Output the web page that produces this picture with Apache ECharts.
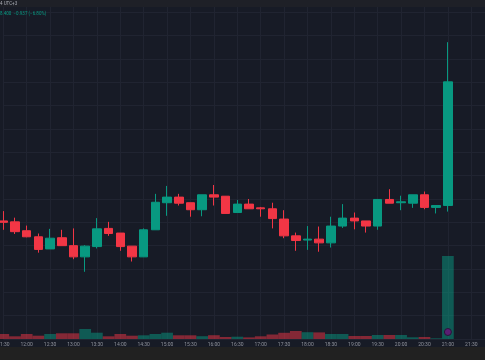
<!DOCTYPE html>
<html>
<head>
<meta charset="utf-8">
<script src="https://cdn.jsdelivr.net/npm/echarts@6/dist/echarts.min.js"></script>
<style>
html,body{margin:0;padding:0;background:#171b26;}
#c{width:485px;height:360px;}
</style>
</head>
<body>
<div id="c"></div>
<script>
const times = ['11:30','11:45','12:00','12:15','12:30','12:45','13:00','13:15','13:30','13:45',
  '14:00','14:15','14:30','14:45','15:00','15:15','15:30','15:45','16:00','16:15',
  '16:30','16:45','17:00','17:15','17:30','17:45','18:00','18:15','18:30','18:45',
  '19:00','19:15','19:30','19:45','20:00','20:15','20:30','20:45','21:00','21:15',
  '21:30','21:45'];
const opens  = [11.53,11.51,11.32,11.19,10.93,11.17,11.00,10.76,10.98,11.37,11.27,10.99,10.76,11.34,11.92,12.04,11.92,11.77,12.09,12.06,11.71,11.89,11.81,11.79,11.57,11.21,11.12,11.14,11.06,11.42,11.59,11.53,11.42,11.99,11.92,11.91,12.09,11.82,11.86];
const closes = [11.50,11.30,11.19,10.92,11.16,11.00,10.76,10.99,11.36,11.26,10.98,10.76,11.34,11.93,12.04,11.91,11.77,12.09,12.04,11.69,11.89,11.79,11.79,11.58,11.21,11.11,11.14,11.06,11.42,11.59,11.53,11.42,11.99,11.91,11.94,12.09,11.82,11.86,14.51];
const lows   = [11.34,11.25,11.18,10.85,10.93,11.00,10.71,10.44,10.94,11.21,10.89,10.66,10.76,11.34,11.64,11.86,11.62,11.63,11.86,11.69,11.71,11.79,11.62,11.37,11.16,10.89,10.91,10.87,10.96,11.38,11.35,11.28,11.34,11.91,11.76,11.81,11.78,11.69,11.73];
const highs  = [11.74,11.60,11.43,11.26,11.36,11.34,11.37,11.01,11.59,11.51,11.27,10.99,11.37,12.11,12.28,12.11,11.92,12.09,12.30,12.06,11.98,12.00,11.83,11.92,11.76,11.28,11.42,11.41,11.62,11.89,11.71,11.53,11.99,12.21,12.07,12.09,12.16,11.86,15.36];
const volumes = [5000,2700,5000,3300,5000,5700,5700,10000,6300,2700,5000,3300,3700,5000,6300,3700,3700,2800,3800,2000,2300,1600,2700,4500,6200,8000,6800,6600,5000,5000,3000,3000,4000,4000,4000,1700,2000,700,83000];
const headerTime = '4 UTC+3';
const headerQuote = '8.400  \u22120.937 (\u22126.80%)';

const UP = '#089981', DOWN = '#f23645';
const UPV = 'rgba(8,153,129,0.5)', DOWNV = 'rgba(242,54,69,0.5)';
const GRIDC = '#202431';
const STEP = 11.7;
const XMAX = 42;
const GRID = { left: 3.3, top: 0, width: STEP * XMAX, height: 339, containLabel: false, outerBoundsMode: 'none' };

const candleData = opens.map((o, i) => [i, o, closes[i], lows[i], highs[i]]);
const volData = volumes.map((v, i) => ({
  value: [i, v],
  itemStyle: { color: closes[i] >= opens[i] ? UPV : DOWNV }
}));
const lastIdx = closes.length - 1;

const chart = echarts.init(document.getElementById('c'), null, { renderer: 'canvas' });
chart.setOption({
  backgroundColor: '#171b26',
  animation: false,
  grid: [ Object.assign({}, GRID), Object.assign({}, GRID) ],
  xAxis: [
    {
      type: 'value', gridIndex: 0, min: 0, max: XMAX, interval: 2,
      axisLine: { show: false }, axisTick: { show: false },
      axisLabel: {
        color: '#8f929b', fontSize: 5, margin: 3, fontFamily: 'Roboto',
        showMinLabel: true, showMaxLabel: false, hideOverlap: false,
        formatter: v => times[v] || ''
      },
      splitLine: { show: true, lineStyle: { color: GRIDC, width: 1 } }
    },
    {
      type: 'value', gridIndex: 1, min: 0, max: XMAX,
      axisLine: { show: false }, axisTick: { show: false }, axisLabel: { show: false },
      splitLine: { show: false }
    }
  ],
  yAxis: [
    {
      type: 'value', gridIndex: 0, min: 9, max: 9 + 339 / 46.67, interval: 0.5,
      axisLine: { show: false }, axisTick: { show: false }, axisLabel: { show: false },
      splitLine: { show: true, lineStyle: { color: GRIDC, width: 1 } }
    },
    {
      type: 'value', gridIndex: 1, min: 0, max: 339000,
      axisLine: { show: false }, axisTick: { show: false }, axisLabel: { show: false },
      splitLine: { show: false }
    }
  ],
  series: [
    {
      type: 'bar', xAxisIndex: 1, yAxisIndex: 1, data: volData,
      barWidth: STEP, clip: false, z: 1,
      markPoint: {
        symbol: 'circle', symbolSize: 7, silent: true,
        itemStyle: { color: '#5a1e72', borderColor: '#2b1238', borderWidth: 1 },
        label: { show: false },
        data: [{ coord: [lastIdx, 7000] }]
      }
    },
    {
      type: 'candlestick', xAxisIndex: 0, yAxisIndex: 0, data: candleData,
      encode: { x: 0, y: [1, 2, 3, 4] },
      barWidth: 9, clip: false, z: 3,
      itemStyle: { color: UP, color0: DOWN, borderColor: UP, borderColor0: DOWN, borderWidth: 1 },
      markLine: {
        silent: true, symbol: ['none', 'none'], label: { show: false },
        lineStyle: { color: 'rgba(8,153,129,0.12)', width: 1, type: 'solid' },
        data: [[{ coord: [-1, closes[lastIdx]] }, { coord: [XMAX, closes[lastIdx]] }]]
      }
    }
  ],
  graphic: [
    { type: 'rect', left: 0, top: 0, shape: { width: 485, height: 7 }, style: { fill: '#1e2027' }, z: 10 },
    { type: 'text', left: 0, top: 1, style: { text: headerTime, fill: '#a9acb4', font: '4.5px Roboto' }, z: 11 },
    { type: 'text', left: 0, top: 11, style: { text: headerQuote, fill: '#089981', font: '4.5px Roboto' }, z: 11 },
    { type: 'rect', left: 0, top: 347, shape: { width: 485, height: 13 }, style: { fill: '#212121' }, z: 10 }
  ]
});
</script>
</body>
</html>
